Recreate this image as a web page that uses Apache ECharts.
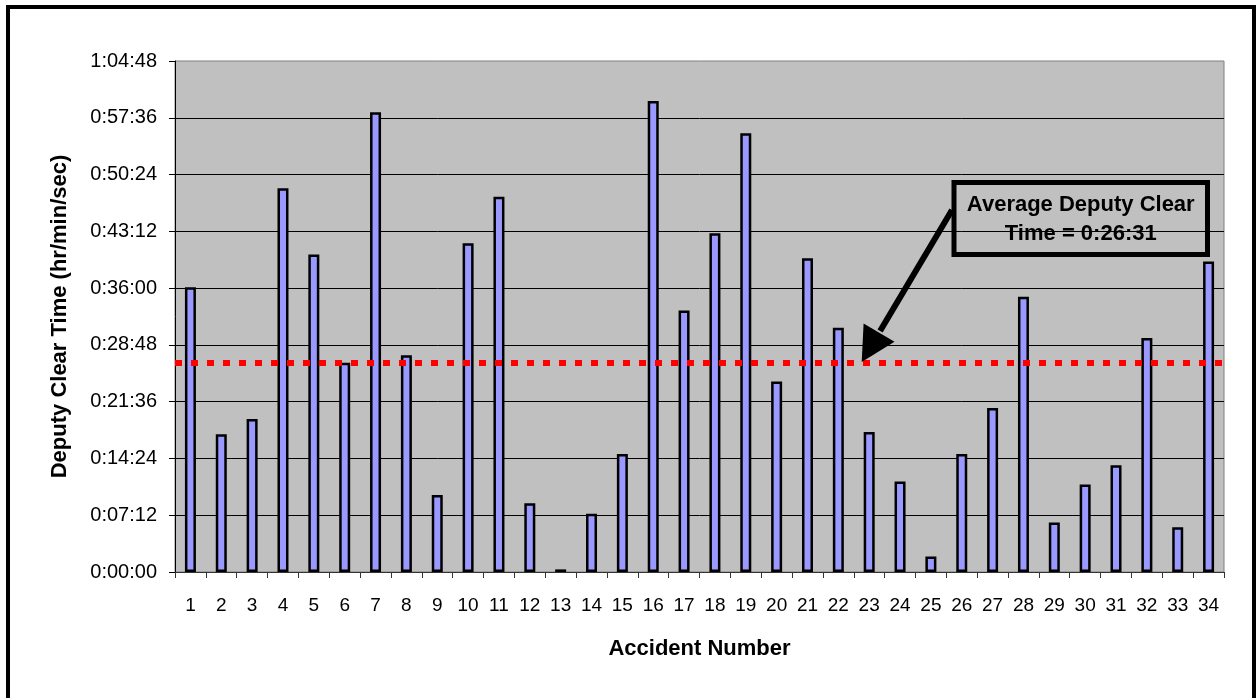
<!DOCTYPE html>
<html>
<head>
<meta charset="utf-8">
<title>Deputy Clear Time by Accident</title>
<script src="https://cdn.jsdelivr.net/npm/echarts@6/dist/echarts.min.js"></script>
<style>
  html, body { margin: 0; padding: 0; background: #ffffff; }
  #chart { width: 1258px; height: 698px; }
</style>
</head>
<body>
<div id="chart"></div>
<script>
// Accident numbers along the x axis
const ACCIDENTS = ['1','2','3','4','5','6','7','8','9','10','11','12','13','14','15','16','17',
                   '18','19','20','21','22','23','24','25','26','27','28','29','30','31','32','33','34'];

// Deputy clear time for each accident (h:mm:ss)
const CLEAR_TIMES = ['0:36:06','0:17:28','0:19:25','0:48:39','0:40:15','0:26:33','0:58:18','0:27:29',
                     '0:09:46','0:41:41','0:47:36','0:08:43','0:00:20','0:07:24','0:14:58','0:59:44',
                     '0:33:09','0:42:57','0:55:38','0:24:09','0:39:47','0:30:59','0:17:46','0:11:28',
                     '0:01:57','0:14:58','0:20:48','0:34:55','0:06:16','0:11:05','0:13:32','0:29:41',
                     '0:05:40','0:39:22'];

// Average clear time across all accidents
const AVERAGE_CLEAR_TIME = '0:26:31';

// Value axis: 0:00:00 to 1:04:48 in 0:07:12 steps
const Y_MIN = '0:00:00';
const Y_MAX = '1:04:48';
const Y_STEP = '0:07:12';

const FONT = 'Arial, "Liberation Sans", sans-serif';

function toSeconds(hms) {
  const p = hms.split(':').map(Number);
  return p[0] * 3600 + p[1] * 60 + p[2];
}
function toHms(sec) {
  const h = Math.floor(sec / 3600);
  const m = Math.floor((sec % 3600) / 60);
  const s = Math.round(sec % 60);
  return h + ':' + String(m).padStart(2, '0') + ':' + String(s).padStart(2, '0');
}

const values = CLEAR_TIMES.map(toSeconds);
const avgSec = toSeconds(AVERAGE_CLEAR_TIME);

const chart = echarts.init(document.getElementById('chart'), null, { renderer: 'canvas' });

chart.setOption({
  animation: false,
  backgroundColor: '#ffffff',
  textStyle: { fontFamily: FONT },
  grid: {
    left: 175, top: 61, right: 34, bottom: 126,
    show: true,
    backgroundColor: '#c0c0c0',
    borderColor: '#808080',
    borderWidth: 1,
    containLabel: false,
    outerBoundsMode: 'none'
  },
  xAxis: {
    type: 'category',
    data: ACCIDENTS,
    boundaryGap: true,
    name: 'Accident Number',
    nameLocation: 'middle',
    nameGap: 66,
    nameTextStyle: { fontFamily: FONT, fontSize: 22, fontWeight: 'bold', color: '#000' },
    axisLine: { show: true, lineStyle: { color: '#333', width: 1 } },
    axisTick: { show: true, inside: false, length: 6, interval: 0, lineStyle: { color: '#333' } },
    axisLabel: { interval: 0, margin: 24, fontFamily: FONT, fontSize: 19, color: '#000' },
    splitLine: { show: false }
  },
  yAxis: {
    type: 'value',
    min: toSeconds(Y_MIN),
    max: toSeconds(Y_MAX),
    interval: toSeconds(Y_STEP),
    name: 'Deputy Clear Time (hr/min/sec)',
    nameLocation: 'middle',
    nameRotate: 90,
    nameGap: 104,
    nameTextStyle: { fontFamily: FONT, fontSize: 22, fontWeight: 'bold', color: '#000' },
    axisLine: { show: true, lineStyle: { color: '#000', width: 1 } },
    axisTick: { show: true, inside: false, length: 6, lineStyle: { color: '#000' } },
    axisLabel: { margin: 18, fontFamily: FONT, fontSize: 20, color: '#000', formatter: v => toHms(v) },
    splitLine: { show: true, showMinLine: false, showMaxLine: false, lineStyle: { color: '#000', width: 1 } }
  },
  series: [{
    type: 'bar',
    data: values,
    barWidth: 11,
    itemStyle: { color: '#9999ff', borderColor: '#000', borderWidth: 2.5 },
    emphasis: { disabled: true },
    markLine: {
      silent: true,
      symbol: ['none', 'none'],
      label: { show: false },
      lineStyle: { color: '#ff0000', width: 6, type: [7, 9], cap: 'butt' },
      data: [{ yAxis: avgSec }]
    }
  }]
});

// Callout box with an arrow pointing at the average line
const BOX = { x: 954, y: 182.5, w: 253.5, h: 72 };
const avgY = chart.convertToPixel({ yAxisIndex: 0 }, avgSec);
const tipX = chart.convertToPixel({ xAxisIndex: 0 }, '23') - 7.5;
const tip = [tipX, avgY - 1];
const start = [BOX.x - 2, 210];
const dx = start[0] - tip[0], dy = start[1] - tip[1];
const len = Math.hypot(dx, dy);
const ux = dx / len, uy = dy / len;          // unit vector from tip back toward the box
const headLen = 34, headHalf = 18;
const base = [tip[0] + ux * headLen, tip[1] + uy * headLen];
const px = -uy, py = ux;                      // perpendicular
const head = [
  tip,
  [base[0] + px * headHalf, base[1] + py * headHalf],
  [base[0] - px * headHalf, base[1] - py * headHalf]
];

chart.setOption({
  graphic: [
    {
      type: 'rect', z: 100, silent: true,
      shape: { x: 8, y: 7, width: 1246, height: 705 },
      style: { fill: 'none', stroke: '#000', lineWidth: 4 }
    },
    {
      type: 'line', z: 100, silent: true,
      shape: { x1: start[0], y1: start[1], x2: base[0] + ux * 2, y2: base[1] + uy * 2 },
      style: { stroke: '#000', lineWidth: 6 }
    },
    {
      type: 'polygon', z: 100, silent: true,
      shape: { points: head },
      style: { fill: '#000' }
    },
    {
      type: 'rect', z: 100, silent: true,
      shape: { x: BOX.x, y: BOX.y, width: BOX.w, height: BOX.h },
      style: { fill: 'none', stroke: '#000', lineWidth: 5 }
    },
    {
      type: 'text', z: 101, silent: true,
      x: BOX.x + BOX.w / 2, y: BOX.y + BOX.h / 2 + 1,
      style: {
        text: 'Average Deputy Clear\nTime = ' + AVERAGE_CLEAR_TIME,
        font: 'bold 22px ' + FONT,
        fill: '#000',
        align: 'center',
        verticalAlign: 'middle',
        lineHeight: 29
      }
    }
  ]
});
</script>
</body>
</html>
